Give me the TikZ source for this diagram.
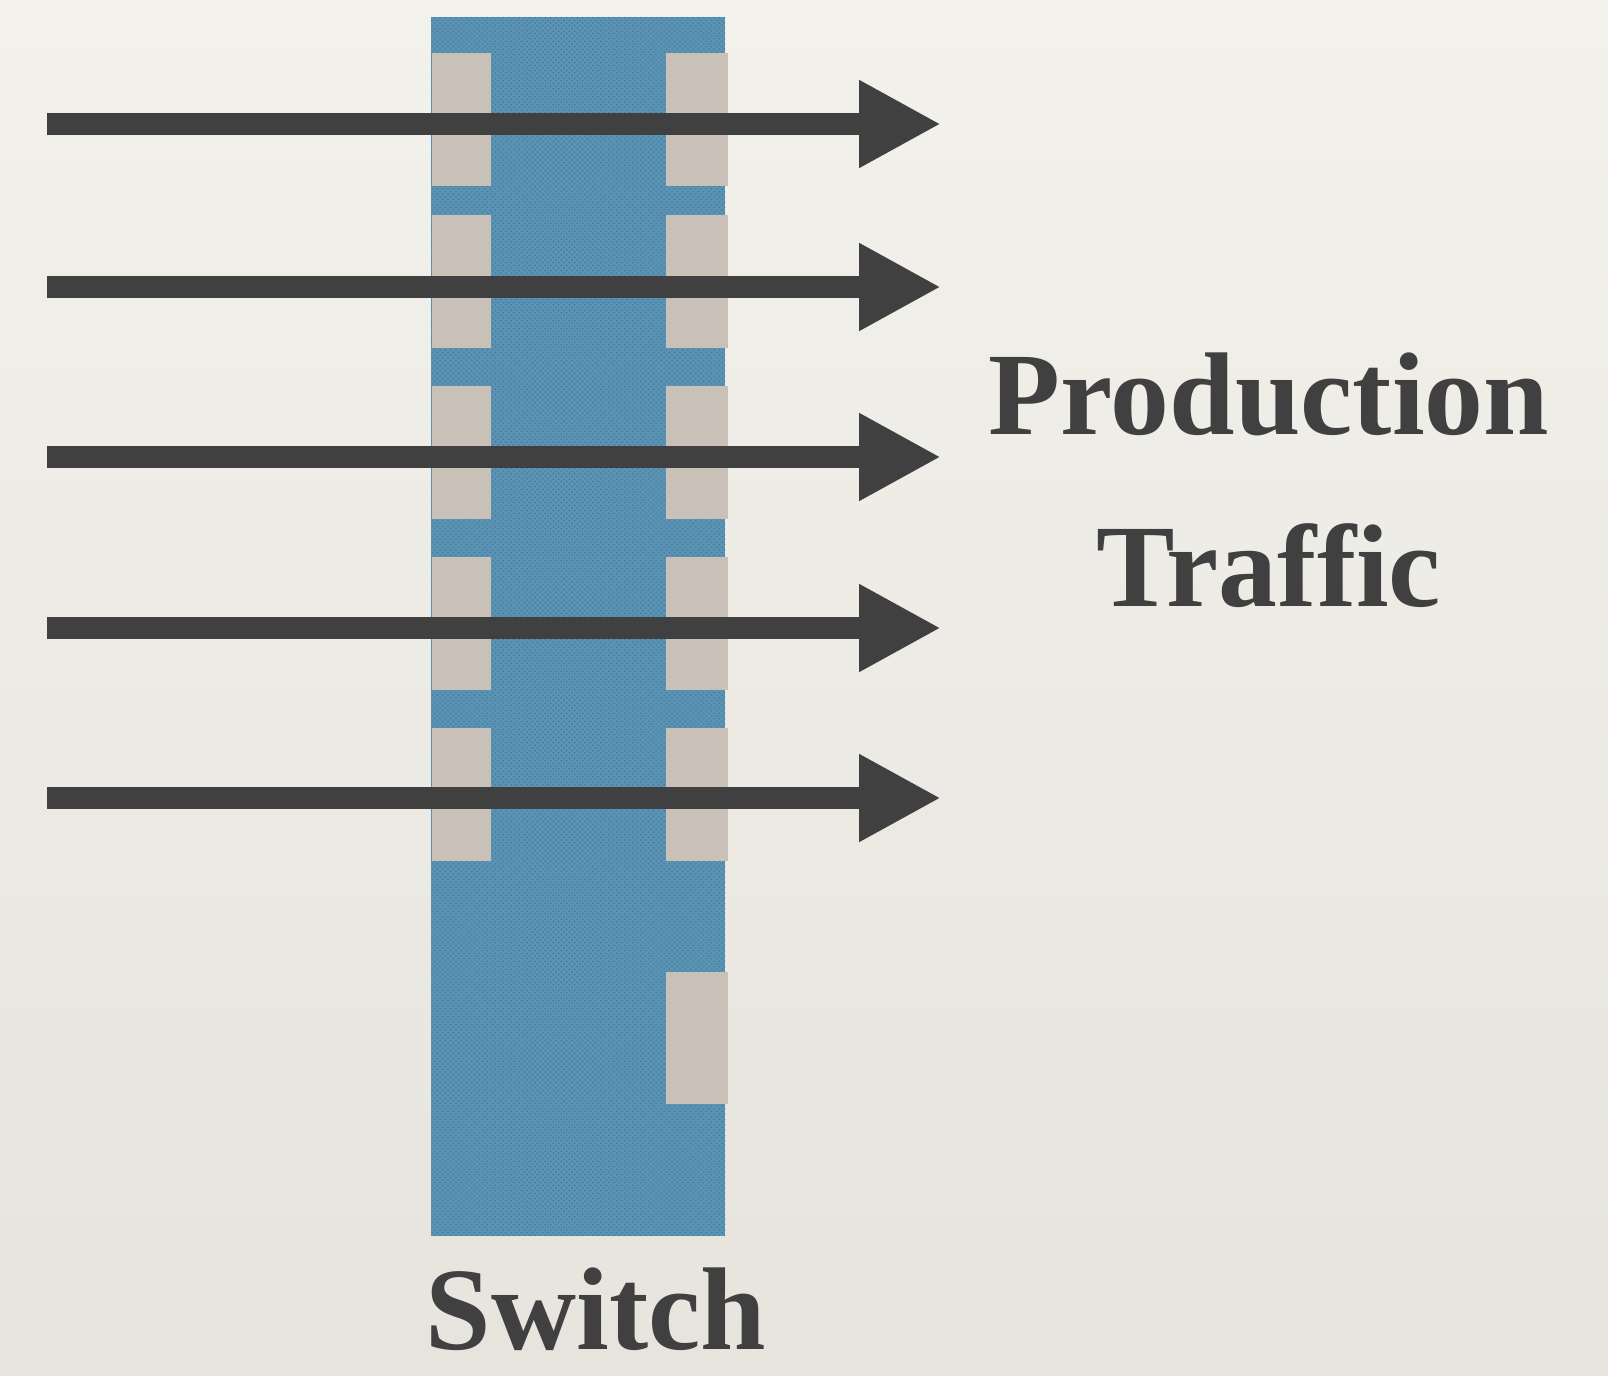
\documentclass[tikz,border=0pt]{standalone}
\usepackage{fontspec}
\setmainfont{Liberation Serif}
\usetikzlibrary{arrows.meta,patterns}

\definecolor{paper}{HTML}{F3F1EB}
\definecolor{paperlow}{HTML}{E7E4DE}
\definecolor{switchblue}{HTML}{5B93B5}
\definecolor{switchdot}{HTML}{3A6F92}
\definecolor{portgrey}{HTML}{C9C1B7}
\definecolor{ink}{HTML}{404040}

\tikzset{
  px/.style={x=0.02cm,y=-0.02cm},
  port/.style={fill=portgrey,draw=none},
  flow/.style={draw=ink,line width=0.44cm,line cap=butt,
    -{Triangle[length=1.64cm,width=1.64cm,fill=ink]}},
  label/.style={text=ink,font=\fontsize{67}{80}\selectfont\bfseries,
    inner sep=0pt,text depth=0pt,anchor=base}
}

\begin{document}
\begin{tikzpicture}[px]
  % page and background
  \useasboundingbox (0,0) rectangle (1608,1375);
  \shade[top color=paper,bottom color=paperlow] (0,0) rectangle (1608,1375);

  % switch body
  \fill[switchblue] (431,17) rectangle (725,1236);
  \fill[pattern=crosshatch dots,pattern color=switchdot,opacity=0.7] (431,17) rectangle (725,1236);

  % ports
  \foreach \t in {53,215,386,557,728}{
    \fill[port] (432,\t) rectangle (491,\t+133);
    \fill[port] (666,\t) rectangle (728,\t+133);
  }
  \fill[port] (666,972) rectangle (728,1104);

  % traffic flows
  \foreach \i/\y in {1/124,2/287,3/457,4/628,5/798}{
    \coordinate (in\i) at (47,\y);
    \coordinate (out\i) at (941,\y);
    \draw[flow] (in\i) -- (out\i);
  }

  % labels
  \node[label] (prodA) at (1269,434) {Production};
  \node[label] (prodB) at (1269,606) {Traffic};
  \node[label] (switch) at (596,1349) {Switch};
\end{tikzpicture}
\end{document}
